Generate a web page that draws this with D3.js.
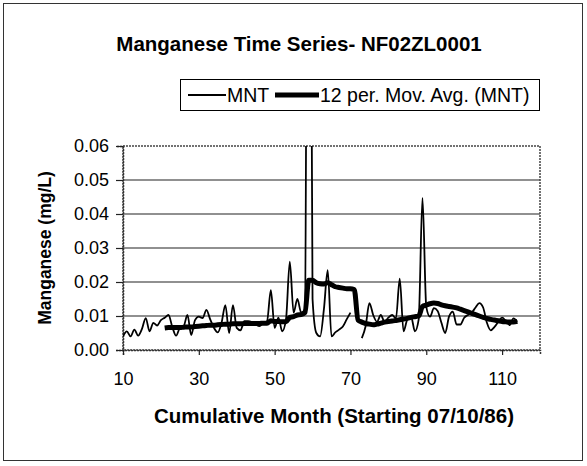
<!DOCTYPE html>
<html>
<head>
<meta charset="utf-8">
<script src="https://cdn.jsdelivr.net/npm/d3@7"></script>
<style>
  body { margin: 0; background: #fff; }
  svg { display: block; font-family: "Liberation Sans", Arial, sans-serif; }
</style>
</head>
<body>
<svg width="587" height="466"></svg>
<script>
const svg = d3.select("svg");

// Monthly manganese readings (mg/L), month 10 .. 114, null = no sample
const mntStart = 10;
const mntValues = [
  0.0040, 0.0055, 0.0040, 0.0060, 0.0042, 0.0062, 0.0094, 0.0055, 0.0080, 0.0072, // 10-19
  0.0088, 0.0095, 0.0103, 0.0068, 0.0042, 0.0065, 0.0070, 0.0103, 0.0044, 0.0088, // 20-29
  0.0098, 0.0094, 0.0118, 0.0090, 0.0065, 0.0052, 0.0080, 0.0132, 0.0050, 0.0132, // 30-39
  0.0065, 0.0058, 0.0085, 0.0085, 0.0082, 0.0075, 0.0070, 0.0080, 0.0085, 0.0176, // 40-49
  0.0065, 0.0095, 0.0055, 0.0090, 0.0260, 0.0110, 0.0150, 0.0110, 0.0120, 0.2500, // 50-59
  0.0150, 0.0050, 0.0040, 0.0120, 0.0235, 0.0040, 0.0052, 0.0060, 0.0069, 0.0090, // 60-69
  0.0110, null,   null,   0.0035, 0.0070, 0.0138, 0.0103, 0.0083, 0.0103, 0.0083, // 70-79
  0.0095, 0.0103, 0.0093, 0.0210, 0.0055, 0.0090, 0.0098, 0.0055, 0.0090, 0.0447, // 80-89
  0.0127, 0.0098, 0.0123, 0.0115, 0.0080, 0.0050, 0.0098, 0.0113, 0.0075, 0.0075, // 90-99
  0.0095, 0.0103, 0.0110, 0.0125, 0.0138, 0.0125, 0.0080, 0.0058, 0.0068, 0.0083, // 100-109
  0.0095, 0.0085, 0.0073, 0.0093, 0.0083                                           // 110-114
];

// 12 period moving average as plotted, month 21 .. 114
const maStart = 21;
const maValues = [
  0.0065, 0.0066, 0.0066, 0.0066, 0.0066, 0.0067, 0.0068, 0.0068, 0.0069,         // 21-29
  0.0070, 0.0071, 0.0072, 0.0073, 0.0073, 0.0074, 0.0075, 0.0076, 0.0076, 0.0077, // 30-39
  0.0077, 0.0077, 0.0078, 0.0078, 0.0078, 0.0078, 0.0078, 0.0079, 0.0079, 0.0086, // 40-49
  0.0084, 0.0084, 0.0083, 0.0083, 0.0096, 0.0098, 0.0103, 0.0104, 0.0110, 0.0205, // 50-59
  0.0205, 0.0198, 0.0195, 0.0194, 0.0198, 0.0192, 0.0186, 0.0184, 0.0182, 0.0180, // 60-69
  0.0180, 0.0178, 0.0088, 0.0082, 0.0078, 0.0076, 0.0074, 0.0076, 0.0079, 0.0082, // 70-79
  0.0084, 0.0085, 0.0087, 0.0089, 0.0091, 0.0093, 0.0096, 0.0098, 0.0100, 0.0128, // 80-89
  0.0132, 0.0136, 0.0138, 0.0137, 0.0133, 0.0130, 0.0128, 0.0126, 0.0124, 0.0120, // 90-99
  0.0116, 0.0112, 0.0108, 0.0104, 0.0100, 0.0096, 0.0093, 0.0090, 0.0088, 0.0086, // 100-109
  0.0084, 0.0083, 0.0082, 0.0082, 0.0084                                           // 110-114
];

const xTicks = [10, 30, 50, 70, 90, 110];
const yTicks = [0, 0.01, 0.02, 0.03, 0.04, 0.05, 0.06];

const mnt = mntValues.map((v, i) => ({ m: mntStart + i, v }));
const ma = maValues.map((v, i) => ({ m: maStart + i, v }));

const plot = { left: 123, right: 540, top: 146, bottom: 350 };

const x = d3.scaleLinear().domain([10, 120]).range([plot.left, plot.right]);
const y = d3.scaleLinear().domain([0, 0.06]).range([plot.bottom, plot.top]);

// outer chart frame
svg.append("rect")
  .attr("x", 3.5).attr("y", 3.5)
  .attr("width", 579).attr("height", 457)
  .attr("fill", "none").attr("stroke", "#333").attr("stroke-width", 1);

// title
svg.append("text")
  .attr("x", 299).attr("y", 51)
  .attr("text-anchor", "middle")
  .attr("font-size", 20.5).attr("font-weight", "bold")
  .text("Manganese Time Series- NF02ZL0001");

// gridlines
svg.append("g")
  .selectAll("line")
  .data(yTicks.filter(d => d > 0 && d < 0.06))
  .join("line")
  .attr("x1", plot.left).attr("x2", plot.right)
  .attr("y1", d => y(d)).attr("y2", d => y(d))
  .attr("stroke", "#222").attr("stroke-width", 1.2);

// plot area border (dotted in the scan)
svg.append("rect")
  .attr("x", plot.left).attr("y", plot.top)
  .attr("width", plot.right - plot.left).attr("height", plot.bottom - plot.top)
  .attr("fill", "none").attr("stroke", "#444").attr("stroke-width", 1.5)
  .attr("stroke-dasharray", "2,1");

svg.append("clipPath").attr("id", "clip")
  .append("rect")
  .attr("x", plot.left).attr("y", plot.top)
  .attr("width", plot.right - plot.left).attr("height", plot.bottom - plot.top);

// axes
const yAxis = svg.append("g")
  .attr("transform", `translate(${plot.left},0)`)
  .call(d3.axisLeft(y).tickValues(yTicks).tickFormat(d3.format(".2f")).tickSize(7).tickPadding(7));
const xAxis = svg.append("g")
  .attr("transform", `translate(0,${plot.bottom})`)
  .call(d3.axisBottom(x).tickValues(xTicks).tickSize(5).tickPadding(17));

[yAxis, xAxis].forEach(a => {
  a.select(".domain").attr("stroke", "#333").attr("stroke-width", 1.5).attr("stroke-dasharray", "2,1");
  a.selectAll(".tick line").attr("stroke", "#222").attr("stroke-width", 1.2);
  a.selectAll(".tick text").attr("font-size", 18).attr("fill", "#000")
    .attr("font-family", "Liberation Sans, Arial, sans-serif");
});

// axis titles
svg.append("text")
  .attr("transform", `translate(51,${(plot.top + plot.bottom) / 2}) rotate(-90)`)
  .attr("text-anchor", "middle")
  .attr("font-size", 17.5).attr("font-weight", "bold")
  .text("Manganese (mg/L)");

svg.append("text")
  .attr("x", 334).attr("y", 423)
  .attr("text-anchor", "middle")
  .attr("font-size", 20.5).attr("font-weight", "bold")
  .text("Cumulative Month (Starting 07/10/86)");

// series, smoothed without overshoot
const line = d3.line()
  .defined(d => d.v != null)
  .x(d => x(d.m))
  .y(d => y(d.v))
  .curve(d3.curveMonotoneX);

const lines = svg.append("g").attr("clip-path", "url(#clip)");

lines.append("path")
  .datum(mnt)
  .attr("d", line)
  .attr("fill", "none").attr("stroke", "#000").attr("stroke-width", 1.8)
  .attr("stroke-linejoin", "round");

lines.append("path")
  .datum(ma)
  .attr("d", line)
  .attr("fill", "none").attr("stroke", "#000").attr("stroke-width", 5)
  .attr("stroke-linejoin", "round");

// legend
const legend = svg.append("g");
legend.append("rect")
  .attr("x", 180.5).attr("y", 79.5)
  .attr("width", 359).attr("height", 31)
  .attr("fill", "#fff").attr("stroke", "#000").attr("stroke-width", 1);

legend.append("line")
  .attr("x1", 188).attr("x2", 226).attr("y1", 95).attr("y2", 95)
  .attr("stroke", "#000").attr("stroke-width", 1.8);
legend.append("text")
  .attr("x", 227).attr("y", 102)
  .attr("font-size", 19.5)
  .text("MNT");

legend.append("line")
  .attr("x1", 275).attr("x2", 319).attr("y1", 95).attr("y2", 95)
  .attr("stroke", "#000").attr("stroke-width", 5);
legend.append("text")
  .attr("x", 320).attr("y", 102)
  .attr("font-size", 19.5)
  .text("12 per. Mov. Avg. (MNT)");
</script>
</body>
</html>
